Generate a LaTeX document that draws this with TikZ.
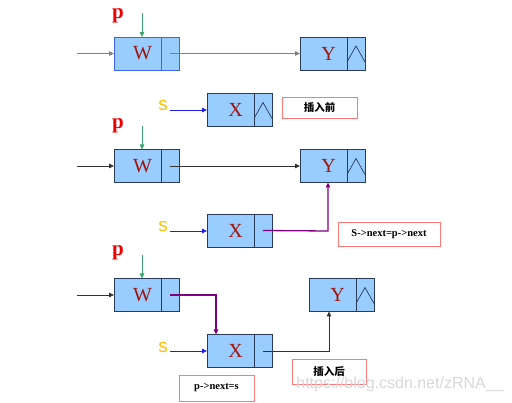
\documentclass[tikz,border=0pt]{standalone}
\usepackage{fontspec}
\setmainfont{Liberation Serif}
\setsansfont{Liberation Sans}
\newfontfamily\cjk{Noto Sans CJK SC}
\usetikzlibrary{arrows.meta,calc}
\definecolor{cellfill}{RGB}{153,204,255}
\definecolor{celldraw}{RGB}{40,60,90}
\definecolor{cellblue}{RGB}{60,100,240}
\definecolor{lettercol}{RGB}{160,20,10}
\definecolor{pcol}{RGB}{240,0,0}
\definecolor{scol}{RGB}{255,192,0}
\definecolor{greencol}{RGB}{60,165,110}
\definecolor{purplecol}{RGB}{128,0,128}
\definecolor{bluecol}{RGB}{30,30,240}
\definecolor{pinkcol}{RGB}{255,120,120}
\definecolor{markcol}{RGB}{215,215,215}
\tikzset{
  datacell/.style={draw=celldraw, fill=cellfill, line width=0.9pt, minimum width=47pt, minimum height=33pt, inner sep=0pt, outer sep=0pt, text=lettercol, font=\fontsize{20}{20}\selectfont},
  ptrcell/.style={draw=celldraw, fill=cellfill, line width=0.9pt, minimum width=18pt, minimum height=33pt, inner sep=0pt, outer sep=0pt},
  ptag/.style={text=pcol, font=\bfseries\fontsize{21}{21}\selectfont, inner sep=0pt},
  stag/.style={text=scol, font=\sffamily\fontsize{19}{19}\selectfont, inner sep=0pt},
  notebox/.style={draw=pinkcol, fill=white, line width=0.8pt, inner sep=0pt, font=\bfseries\fontsize{10.5}{10.5}\selectfont},
  link/.style={line width=0.8pt, -{Triangle[length=5pt,width=4.5pt]}},
  plink/.style={line width=1.3pt, -{Triangle[length=5pt,width=4.5pt]}},
  nullmark/.style={line width=0.7pt, draw=celldraw}
}
\newcommand{\nullin}[1]{\draw[nullmark] ($(#1.south west)+(0,-8)$) -- ($(#1.north)+(0,9)$) -- ($(#1.south east)+(0,-8)$);}
\begin{document}
\begin{tikzpicture}[x=1pt,y=-1pt]
\useasboundingbox (0,0) rectangle (512,403);
% ---------- row 1 ----------
\node[datacell, draw=cellblue] (w1) at (137.5,53.5) {\hspace*{10pt}W};
\node[ptrcell, draw=cellblue, anchor=west] (w1p) at (w1.east) {};
\node[datacell] (y1) at (323.5,53.5) {\hspace*{10pt}Y};
\node[ptrcell, anchor=west] (y1p) at (y1.east) {};
\nullin{y1p}
\node[ptag] (p1) at (118,16) {p};
\coordinate (g1) at (142,13);
\coordinate (in1) at (77,53.5);
\draw[link, color=gray] (in1) -- (w1.west);
\draw[link, color=greencol] (g1) -- (g1 |- w1.north);
\draw[link, color=gray] (w1p.center) -- (y1.west);
% ---------- row 2 ----------
\node[datacell] (x2) at (230.5,110) {\hspace*{10pt}X};
\node[ptrcell, anchor=west] (x2p) at (x2.east) {};
\nullin{x2p}
\node[stag] (s2) at (163,105) {s};
\coordinate (sb2) at (170,110);
\draw[link, color=bluecol] (sb2) -- (x2.west);
\node[notebox, minimum width=75pt, minimum height=21pt] (n1) at (319.5,107.5) {\cjk\bfseries 插入前};
% ---------- row 3 ----------
\node[datacell] (w3) at (137.5,166) {\hspace*{10pt}W};
\node[ptrcell, anchor=west] (w3p) at (w3.east) {};
\node[datacell] (y3) at (323.5,166) {\hspace*{10pt}Y};
\node[ptrcell, anchor=west] (y3p) at (y3.east) {};
\nullin{y3p}
\node[ptag] (p3) at (118,126) {p};
\coordinate (g3) at (142,126);
\coordinate (in3) at (77,166);
\draw[link, color=black!80] (in3) -- (w3.west);
\draw[link, color=greencol] (g3) -- (g3 |- w3.north);
\draw[link, color=black!80] (w3p.center) -- (y3.west);
\node[datacell] (x3) at (230.5,230.5) {\hspace*{10pt}X};
\node[ptrcell, anchor=west] (x3p) at (x3.east) {};
\node[stag] (s3) at (163,226) {s};
\coordinate (sb3) at (170,231);
\draw[link, color=bluecol] (sb3) -- (sb3 -| x3.west);
\coordinate (c3) at (328,231);
\draw[plink, color=purplecol] (x3p.center) -- (c3) -- (c3 |- y3.south);
\node[notebox, minimum width=102pt, minimum height=24pt] (n2) at (389,234) {S->next=p->next};
% ---------- row 4 ----------
\node[datacell] (w4) at (137.5,295) {\hspace*{10pt}W};
\node[ptrcell, anchor=west] (w4p) at (w4.east) {};
\node[datacell] (x4) at (230.5,351) {\hspace*{10pt}X};
\node[ptrcell, anchor=west] (x4p) at (x4.east) {};
\node[datacell] (y4) at (332.5,295) {\hspace*{10pt}Y};
\node[ptrcell, anchor=west] (y4p) at (y4.east) {};
\nullin{y4p}
\node[ptag] (p4) at (118,253) {p};
\coordinate (g4) at (142,255);
\coordinate (in4) at (77,295);
\draw[link, color=black!80] (in4) -- (w4.west);
\draw[link, color=greencol] (g4) -- (g4 |- w4.north);
\coordinate (c4) at (216,295);
\draw[plink, color=purplecol] (w4p.center) -- (c4) -- (c4 |- x4.north);
\node[stag] (s4) at (163,347) {s};
\coordinate (sb4) at (170,351);
\draw[link, color=bluecol] (sb4) -- (x4.west);
\coordinate (c5) at (329,351);
\draw[link, color=black!80] (x4p.center) -- (c5) -- (c5 |- y4.south);
\node[notebox, minimum width=74pt, minimum height=25pt] (n4) at (329,371.5) {\cjk\bfseries 插入后};
\node[notebox, minimum width=75pt, minimum height=26pt] (n3) at (216.5,388) {p->next=s};
\node[text=markcol, font=\sffamily\fontsize{16}{16}\selectfont, inner sep=0pt] (wm) at (400,384) {https://blog.csdn.net/zRNA\_\_};
\end{tikzpicture}
\end{document}
